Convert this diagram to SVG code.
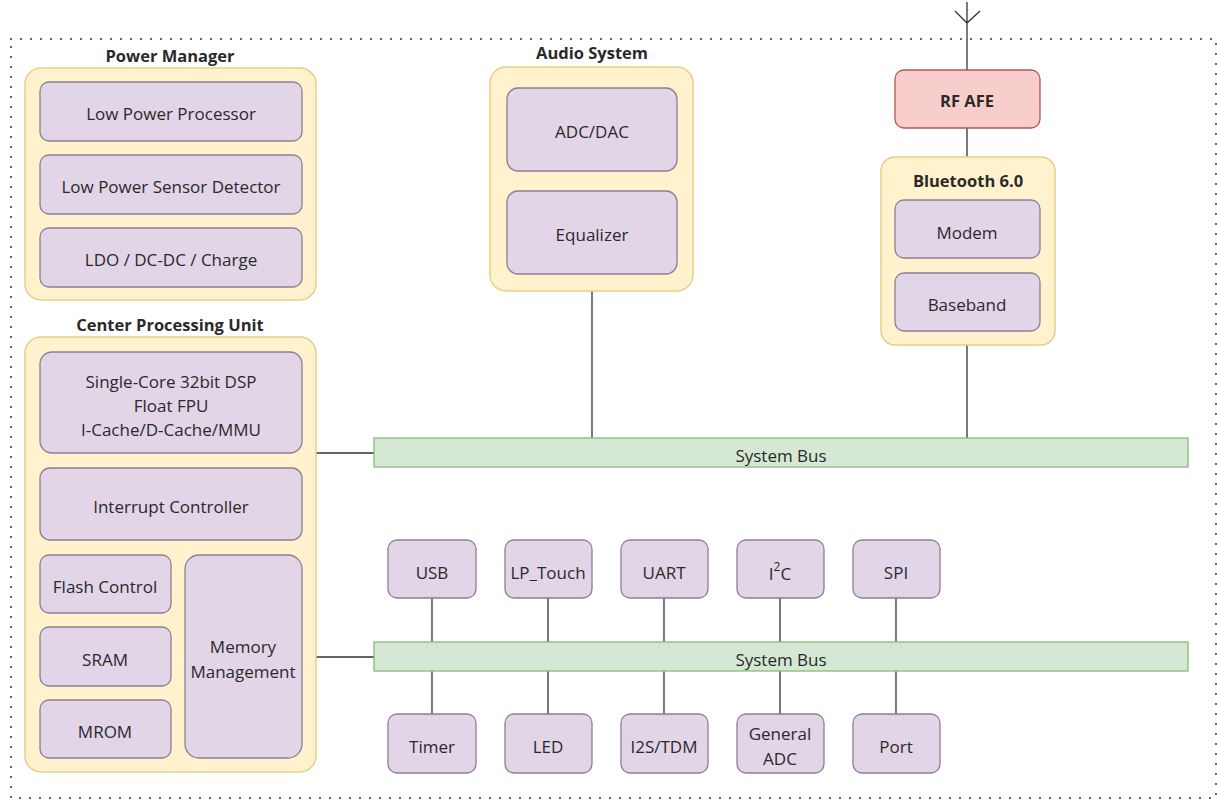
<svg xmlns="http://www.w3.org/2000/svg" width="1217" height="802" viewBox="0 0 1217 802">
<style>
text{font-family:"Open Sans","Noto Sans","Liberation Sans",sans-serif;font-size:17px;fill:#2a2a2a;text-anchor:middle;dominant-baseline:central}
.t{font-weight:bold;font-size:16.5px}
.c{fill:#fff2cc;stroke:#e6cf8a;stroke-width:1.5}
.p{fill:#e1d5e7;stroke:#8f7d96;stroke-width:1.3}
.r{fill:#f8cecc;stroke:#b85450;stroke-width:1.3}
.b{fill:#d5e8d4;stroke:#8cb87a;stroke-width:1.3}
.l{stroke:#333;stroke-width:1.3;fill:none}
.frame{fill:none;stroke:#333;stroke-width:2;stroke-dasharray:0 10;stroke-linecap:round}
</style>
<rect width="1217" height="802" fill="#fff"/>
<rect class="frame" x="11" y="39" width="1205" height="759"/>
<g id="connectors">
<path class="l" d="M967 2V70M955 11L967 23L980 11M967 128V157M967 345V438M592 291V438M316 453H374M316 657H374"/>
<path class="l" d="M432 598V642M432 671V714M548 598V642M548 671V714M664 598V642M664 671V714M780 598V642M780 671V714M896 598V642M896 671V714"/>
</g>
<g id="power-manager">
<text class="t" x="170" y="55">Power Manager</text>
<rect class="c" x="25" y="68" width="291" height="232" rx="16"/>
<g id="lpp"><rect class="p" x="40" y="82" width="262" height="59" rx="9"/><text x="171" y="113">Low Power Processor</text></g>
<g id="lpsd"><rect class="p" x="40" y="155" width="262" height="59" rx="9"/><text x="171" y="186">Low Power Sensor Detector</text></g>
<g id="ldo"><rect class="p" x="40" y="228" width="262" height="59" rx="9"/><text x="171" y="259">LDO / DC-DC / Charge</text></g>
</g>
<g id="cpu">
<text class="t" x="170" y="324">Center Processing Unit</text>
<rect class="c" x="25" y="337" width="291" height="435" rx="16"/>
<g id="dsp"><rect class="p" x="40" y="352" width="262" height="101" rx="12"/><text x="171" y="381">Single-Core 32bit DSP</text><text x="171" y="405">Float FPU</text><text x="171" y="429">I-Cache/D-Cache/MMU</text></g>
<g id="intc"><rect class="p" x="40" y="468" width="262" height="72" rx="10"/><text x="171" y="506">Interrupt Controller</text></g>
<g id="flash"><rect class="p" x="40" y="555" width="131" height="58" rx="9"/><text x="105" y="586">Flash Control</text></g>
<g id="sram"><rect class="p" x="40" y="627" width="131" height="59" rx="9"/><text x="105" y="659">SRAM</text></g>
<g id="mrom"><rect class="p" x="40" y="700" width="131" height="58" rx="9"/><text x="105" y="731">MROM</text></g>
<g id="mm"><rect class="p" x="185" y="555" width="117" height="203" rx="14"/><text x="243" y="646">Memory</text><text x="243" y="671">Management</text></g>
</g>
<g id="audio">
<text class="t" x="592" y="52">Audio System</text>
<rect class="c" x="490" y="67" width="203" height="224" rx="16"/>
<g id="adc"><rect class="p" x="507" y="88" width="170" height="83" rx="11"/><text x="592" y="131">ADC/DAC</text></g>
<g id="eq"><rect class="p" x="507" y="191" width="170" height="83" rx="11"/><text x="592" y="234">Equalizer</text></g>
</g>
<g id="rfafe"><rect class="r" x="895" y="70" width="145" height="58" rx="9"/><text class="t" x="967" y="100">RF AFE</text></g>
<g id="bluetooth">
<rect class="c" x="881" y="157" width="174" height="188" rx="14"/>
<text class="t" x="968" y="180">Bluetooth 6.0</text>
<g id="modem"><rect class="p" x="895" y="200" width="145" height="58" rx="9"/><text x="967" y="232">Modem</text></g>
<g id="baseband"><rect class="p" x="895" y="273" width="145" height="58" rx="9"/><text x="967" y="304">Baseband</text></g>
</g>
<g id="bus1"><rect class="b" x="374" y="438" width="814" height="29"/><text x="781" y="455">System Bus</text></g>
<g id="bus2"><rect class="b" x="374" y="642" width="814" height="29"/><text x="781" y="659">System Bus</text></g>
<g id="usb"><rect class="p" x="388" y="540" width="88" height="58" rx="9"/><text x="432" y="572">USB</text></g>
<g id="lptouch"><rect class="p" x="505" y="540" width="87" height="58" rx="9"/><text x="548" y="572">LP_Touch</text></g>
<g id="uart"><rect class="p" x="621" y="540" width="87" height="58" rx="9"/><text x="664" y="572">UART</text></g>
<g id="i2c"><rect class="p" x="737" y="540" width="87" height="58" rx="9"/><text x="780" y="573">I<tspan font-size="12" dy="-7">2</tspan><tspan dy="7">C</tspan></text></g>
<g id="spi"><rect class="p" x="853" y="540" width="87" height="58" rx="9"/><text x="896" y="572">SPI</text></g>
<g id="timer"><rect class="p" x="388" y="714" width="88" height="59" rx="9"/><text x="432" y="746">Timer</text></g>
<g id="led"><rect class="p" x="505" y="714" width="87" height="59" rx="9"/><text x="548" y="746">LED</text></g>
<g id="i2s"><rect class="p" x="621" y="714" width="87" height="59" rx="9"/><text x="664" y="746">I2S/TDM</text></g>
<g id="gadc"><rect class="p" x="737" y="714" width="87" height="59" rx="9"/><text x="780" y="733">General</text><text x="780" y="758">ADC</text></g>
<g id="port"><rect class="p" x="853" y="714" width="87" height="59" rx="9"/><text x="896" y="746">Port</text></g>
</svg>
